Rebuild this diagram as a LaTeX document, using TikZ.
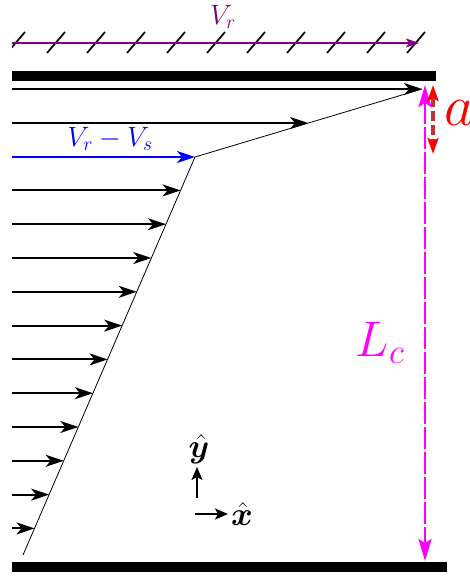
\RequirePackage{fix-cm}
\documentclass[tikz,border=0pt]{standalone}
\usepackage{amsmath,bm}
\usetikzlibrary{arrows.meta}
\definecolor{vrpurple}{RGB}{128,0,128}
\definecolor{darkred}{RGB}{190,50,50}
\definecolor{mag}{RGB}{255,0,255}
\definecolor{pred}{RGB}{255,0,0}
\definecolor{pblue}{RGB}{0,0,255}
\tikzset{
  flow/.style={line width=2pt,-{Stealth[length=18pt,width=12pt,inset=5pt]}},
  wall/.style={fill=black,draw=none},
  profile/.style={line width=0.8pt},
  hatch/.style={line width=1.7pt},
  lc/.style={mag,line width=2.8pt,dash pattern=on 22pt off 3pt,
     {Stealth[length=22pt,width=13pt,inset=4pt]}-{Stealth[length=22pt,width=13pt,inset=4pt]}},
  aarrow/.style={darkred,line width=3.8pt,dash pattern=on 10pt off 4pt,
     {Stealth[length=16pt,width=11pt,inset=3pt,pred]}-{Stealth[length=16pt,width=11pt,inset=3pt,pred]}},
  axis/.style={line width=2.2pt,-{Stealth[length=13pt,width=11pt,inset=3pt]}},
  lbl/.style={inner sep=0pt}
}
\begin{document}
\begin{tikzpicture}[x=1pt,y=-1pt]
\useasboundingbox (0,0) rectangle (469,578);
% walls
\fill[wall] (12,71) rectangle (436,81);
\fill[wall] (12,562) rectangle (447,572);
% moving wall hatch
\begin{scope}
\clip (12,20) rectangle (440,60);
\foreach \i in {0,...,10} {
  \draw[hatch] ({16+40*\i-9},53) -- ({16+40*\i+9},32);
}
\end{scope}
\coordinate (vs) at (12,43);
\coordinate (ve) at (419,43);
\draw[vrpurple,line width=1.6pt,-{Stealth[length=13pt,width=9pt,inset=3pt]}] (vs) -- (ve);
\node[lbl,vrpurple,font=\fontsize{28}{32}\selectfont] (vr) at (223,17) {$V_r$};
% profile points
\coordinate (p0) at (422,89);
\coordinate (p1) at (195,157);
\coordinate (p2) at (23,555);
\draw[profile] (p0) -- (p1) -- (p2);
% flow arrows
\coordinate (s0) at (12,89);
\draw[flow] (s0) -- (p0);
\coordinate (s1) at (12,123);
\coordinate (t1) at (308,123);
\draw[flow] (s1) -- (t1);
\coordinate (s2) at (12,157);
\draw[flow,pblue,line width=2.8pt] (s2) -- (p1);
\node[lbl,pblue,font=\fontsize{28}{32}\selectfont] (vrs) at (110,139) {$V_r - V_s$};
\foreach \i in {3,...,13} {
  \pgfmathsetmacro{\yy}{89+33.8*\i}
  \pgfmathsetmacro{\xx}{195-0.43216*(\yy-157)}
  \coordinate (s\i) at (12,\yy);
  \coordinate (t\i) at (\xx,\yy);
  \draw[flow] (s\i) -- (t\i);
}
% L_c
\coordinate (lt) at (425,85);
\coordinate (lb) at (425,561);
\draw[lc] (lt) -- (lb);
\node[lbl,mag,font=\fontsize{50}{56}\selectfont] (lcl) at (380,343) {$L_c$};
% a
\coordinate (at) at (433,85);
\coordinate (ab) at (433,154);
\draw[aarrow] (at) -- (ab);
\node[lbl,pred,font=\fontsize{58}{62}\selectfont,anchor=west] (al) at (444,113) {$a$};
% axes
\coordinate (yo) at (197,498);
\coordinate (ye) at (197,467);
\draw[axis] (yo) -- (ye);
\coordinate (xo) at (195,514);
\coordinate (xe) at (228,514);
\draw[axis] (xo) -- (xe);
\node[lbl,font=\fontsize{33}{36}\selectfont] (yl) at (199,449) {$\hat{\bm{y}}$};
\node[lbl,font=\fontsize{33}{36}\selectfont] (xl) at (242,514) {$\hat{\bm{x}}$};
\end{tikzpicture}
\end{document}
